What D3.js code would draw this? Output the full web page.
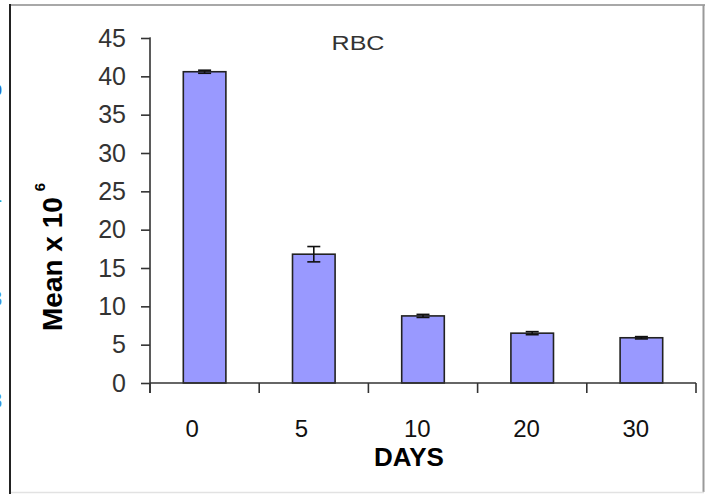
<!DOCTYPE html>
<html><head><meta charset="utf-8">
<script src="https://cdnjs.cloudflare.com/ajax/libs/d3/7.8.5/d3.min.js"></script>
<style>
html,body{margin:0;padding:0;background:#fff;}
svg{display:block;font-family:"Liberation Sans",Arial,sans-serif;}
</style></head>
<body>
<svg id="chart" width="705" height="494"></svg>
<script>
const categories = ["0", "5", "10", "20", "30"];
const means = [40.6, 16.8, 8.75, 6.5, 5.9];
const errors = [0.2, 1.0, 0.2, 0.2, 0.15];
const yTicks = [0, 5, 10, 15, 20, 25, 30, 35, 40, 45];
const chartTitle = "RBC";
const xTitle = "DAYS";
const yTitle = "Mean x 10";
const yTitleSup = "6";
const edgeFragments = ["o", "1", "3", "3"];

const svg = d3.select("#chart");
const W = 705, H = 494;
const plot = {left: 150, right: 696, top: 38, bottom: 383};

// frame
svg.append("rect").attr("x", 0).attr("y", 0).attr("width", W).attr("height", H).attr("fill", "#fff");
svg.append("line").attr("x1", 10).attr("x2", W).attr("y1", 5).attr("y2", 5).attr("stroke", "#a8a8a8").attr("stroke-width", 2);
svg.append("line").attr("x1", 703.5).attr("x2", 703.5).attr("y1", 5).attr("y2", 492).attr("stroke", "#9a9a9a").attr("stroke-width", 2);
svg.append("line").attr("x1", 10).attr("x2", 704).attr("y1", 492.5).attr("y2", 492.5).attr("stroke", "#e2e2e2").attr("stroke-width", 1.5);
svg.append("line").attr("x1", 10).attr("x2", 10).attr("y1", 4).attr("y2", H).attr("stroke", "#222").attr("stroke-width", 2);

// cut-off fragments at left edge (the reference shows only their right edges)
const fragY = [96, 202, 306, 408];
const fragCol = ["#1f6fc8", "#2a9fbf", "#3a8fd8", "#3a8fd8"];
svg.selectAll("text.frag").data(edgeFragments).enter().append("text")
  .attr("class", "frag")
  .attr("x", -10).attr("y", (d, i) => fragY[i])
  .attr("font-size", 22).attr("fill", (d, i) => fragCol[i])
  .text(d => d);

const x = d3.scaleBand().domain(categories).range([plot.left, plot.right]).paddingInner(0).paddingOuter(0);
const y = d3.scaleLinear().domain([0, 45]).range([plot.bottom, plot.top]);
const barW = x.bandwidth() * 0.39;

// bars
svg.selectAll("rect.bar").data(categories).enter().append("rect")
  .attr("class", "bar")
  .attr("x", d => x(d) + x.bandwidth() / 2 - barW / 2)
  .attr("y", (d, i) => y(means[i]))
  .attr("width", barW)
  .attr("height", (d, i) => y(0) - y(means[i]))
  .attr("fill", "#9999ff")
  .attr("stroke", "#222")
  .attr("stroke-width", 1.6);

// error bars
const capW = 13;
const eg = svg.selectAll("g.err").data(categories).enter().append("g").attr("class", "err")
  .attr("stroke", "#111").attr("stroke-width", 1.6);
eg.append("line")
  .attr("x1", d => x(d) + x.bandwidth() / 2).attr("x2", d => x(d) + x.bandwidth() / 2)
  .attr("y1", (d, i) => y(means[i] + errors[i])).attr("y2", (d, i) => y(means[i] - errors[i]));
eg.append("line")
  .attr("x1", d => x(d) + x.bandwidth() / 2 - capW / 2).attr("x2", d => x(d) + x.bandwidth() / 2 + capW / 2)
  .attr("y1", (d, i) => y(means[i] + errors[i])).attr("y2", (d, i) => y(means[i] + errors[i]));
eg.append("line")
  .attr("x1", d => x(d) + x.bandwidth() / 2 - capW / 2).attr("x2", d => x(d) + x.bandwidth() / 2 + capW / 2)
  .attr("y1", (d, i) => y(means[i] - errors[i])).attr("y2", (d, i) => y(means[i] - errors[i]));

// y axis
const yAxis = d3.axisLeft(y).tickValues(yTicks).tickSize(9).tickPadding(15).tickFormat(d3.format("d"));
const gy = svg.append("g").attr("transform", `translate(${plot.left},0)`).call(yAxis);
gy.select(".domain").attr("d", `M-0.5,${plot.top}H0V${plot.bottom + 10}`).attr("stroke", "#333").attr("stroke-width", 1.6);
gy.selectAll(".tick line").attr("stroke", "#333").attr("stroke-width", 1.6);
gy.selectAll(".tick text").attr("font-size", 25).attr("fill", "#333")
  .attr("font-family", "'Liberation Sans', Arial, sans-serif");

// x axis: ticks at band boundaries
const xAxisLine = svg.append("g");
xAxisLine.append("line").attr("x1", plot.left).attr("x2", plot.right).attr("y1", plot.bottom).attr("y2", plot.bottom)
  .attr("stroke", "#333").attr("stroke-width", 1.6);
const bounds = categories.map(d => x(d)).concat([x(categories[categories.length - 1]) + x.bandwidth()]);
xAxisLine.selectAll("line.xt").data(bounds).enter().append("line").attr("class", "xt")
  .attr("x1", d => d).attr("x2", d => d).attr("y1", plot.bottom).attr("y2", plot.bottom + 10)
  .attr("stroke", "#333").attr("stroke-width", 1.6);
svg.selectAll("text.xl").data(categories).enter().append("text").attr("class", "xl")
  .attr("x", d => x(d) + x.bandwidth() / 2 - 19)
  .attr("y", 437)
  .attr("font-size", 24).attr("fill", "#111")
  .text(d => d);

// titles
svg.append("text").attr("x", 358).attr("y", 49.5).attr("text-anchor", "middle")
  .attr("font-size", 20).attr("fill", "#333")
  .attr("textLength", 53).attr("lengthAdjust", "spacingAndGlyphs")
  .text(chartTitle);
svg.append("text").attr("x", 409).attr("y", 466).attr("text-anchor", "middle")
  .attr("font-size", 26).attr("font-weight", "bold").attr("fill", "#000")
  .text(xTitle);
const yt = svg.append("text").attr("transform", "translate(62,331) rotate(-90)")
  .attr("font-size", 28).attr("font-weight", "bold").attr("fill", "#000");
yt.append("tspan").text(yTitle);
yt.append("tspan").attr("dx", 6).attr("dy", -17).attr("font-size", 15).text(yTitleSup);
</script>
</body></html>
